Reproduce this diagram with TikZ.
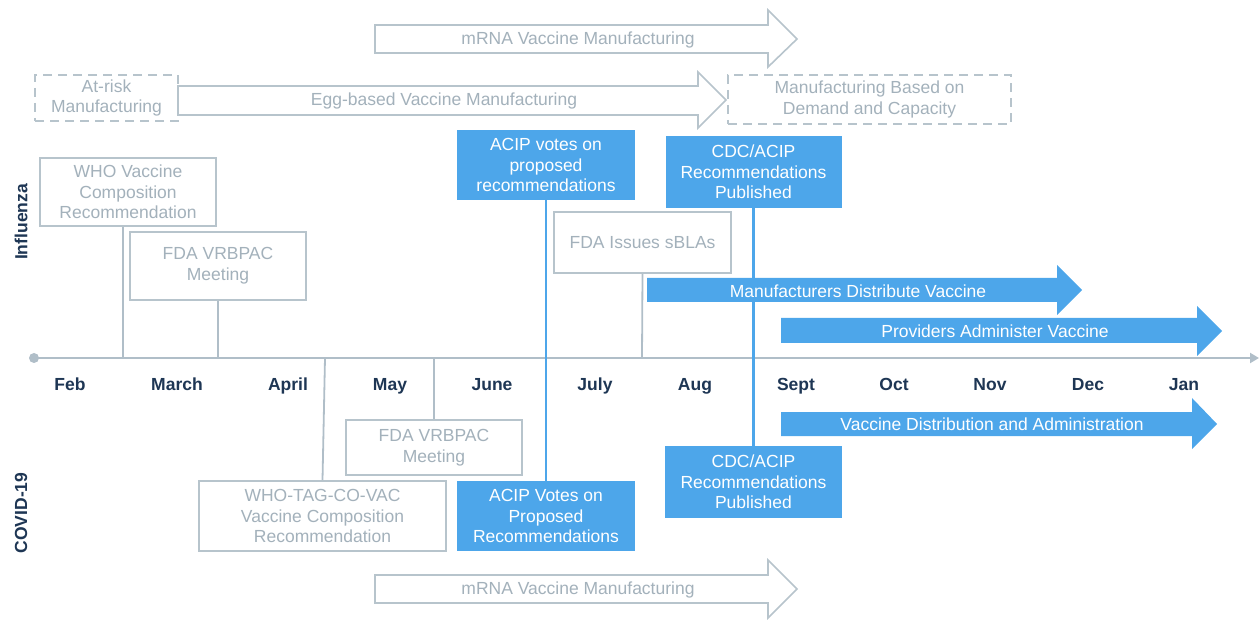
\documentclass[tikz,border=0pt]{standalone}
\usepackage{fontspec}
\setmainfont{Liberation Sans}
\usetikzlibrary{arrows.meta}
\definecolor{gline}{RGB}{183,196,204}
\definecolor{gtext}{RGB}{163,177,187}
\definecolor{vblue}{RGB}{77,166,234}
\definecolor{navy}{RGB}{30,54,84}
\definecolor{axisc}{RGB}{176,190,200}
\begin{document}
\begin{tikzpicture}[x=1pt,y=-1pt,
 every node/.style={font=\fontsize{17.5}{20.7}\selectfont, align=center, inner sep=0pt},
 gbox/.style={draw=gline, line width=1.6pt, text=gtext, fill=white},
 bbox/.style={fill=vblue, text=white},
 dbox/.style={draw=gline, line width=1.6pt, dash pattern=on 9pt off 6pt, text=gtext},
 month/.style={font=\fontsize{17.5}{20}\selectfont\bfseries, text=navy, anchor=base},
 side/.style={font=\fontsize{17.5}{20}\selectfont\bfseries, text=navy, rotate=90},
 gout/.style={draw=gline, line width=1.6pt, fill=white, line join=miter},
 gtxt/.style={text=gtext},
 wtxt/.style={text=white},
 conn/.style={draw=axisc, line width=1.8pt},
 bline/.style={draw=vblue, line width=2.2pt},
]
\useasboundingbox (0,0) rectangle (1259,620);

% axis
\coordinate (ax0) at (34,358);
\coordinate (ax1) at (1259,358);
\draw[axisc, line width=2.2pt, -{Triangle[length=9pt,width=10pt]}] (ax0) -- (ax1);
\fill[axisc] (ax0) circle (5pt);

% months
\node[month] (m1) at (70,391) {Feb};
\node[month] (m2) at (177,391) {March};
\node[month] (m3) at (288,391) {April};
\node[month] (m4) at (390,391) {May};
\node[month] (m5) at (492,391) {June};
\node[month] (m6) at (595,391) {July};
\node[month] (m7) at (695,391) {Aug};
\node[month] (m8) at (796,391) {Sept};
\node[month] (m9) at (894,391) {Oct};
\node[month] (m10) at (990,391) {Nov};
\node[month] (m11) at (1088,391) {Dec};
\node[month] (m12) at (1184,391) {Jan};

% side labels
\node[side] (flu) at (21,222) {Influenza};
\node[side] (cov) at (21,513) {COVID-19};

% axis attachment points
\coordinate (a1) at (123,358);
\coordinate (a2) at (218,358);
\coordinate (a3) at (642,358);
\coordinate (a4) at (434,358);
\coordinate (a5) at (325,358);

% boxes
\node[gbox, minimum width=176pt, minimum height=68pt] (who) at (128,192) {WHO Vaccine\\Composition\\Recommendation};
\node[gbox, minimum width=176pt, minimum height=68pt] (fdaI) at (218,266) {FDA VRBPAC\\Meeting};
\node[gbox, minimum width=177pt, minimum height=61pt] (sbla) at (642.5,242.5) {FDA Issues sBLAs};
\node[gbox, minimum width=176pt, minimum height=55pt] (fdaC) at (434,447.5) {FDA VRBPAC\\Meeting};
\node[gbox, minimum width=247pt, minimum height=70pt] (whoC) at (322.5,516) {WHO-TAG-CO-VAC\\Vaccine Composition\\Recommendation};

\node[bbox, minimum width=178pt, minimum height=70pt] (acipI) at (546,165) {ACIP votes on\\proposed\\recommendations};
\node[bbox, minimum width=176pt, minimum height=72pt] (cdcI) at (753.5,172) {CDC/ACIP\\Recommendations\\Published};
\node[bbox, minimum width=178pt, minimum height=70pt] (acipC) at (546,516) {ACIP Votes on\\Proposed\\Recommendations};
\node[bbox, minimum width=177pt, minimum height=72pt] (cdcC) at (753.5,482) {CDC/ACIP\\Recommendations\\Published};

% connectors
\draw[conn] (who.south -| a1) -- (a1);
\draw[conn] (fdaI.south) -- (a2);
\draw[conn] (sbla.south) -- (a3);
\draw[conn] (a4) -- (fdaC.north);
\draw[conn] (a5) -- (whoC.north);
\draw[bline] (acipI.south) -- (acipC.north);
\draw[bline] (cdcI.south) -- (cdcC.north);

% dashed boxes
\node[dbox, minimum width=143pt, minimum height=46pt] (risk) at (106.5,98) {At-risk\\Manufacturing};
\node[dbox, minimum width=283pt, minimum height=49pt] (demand) at (869.5,99.5) {Manufacturing Based on\\Demand and Capacity};

% outline arrows
\draw[gout] (375,25) -- (768,25) -- (768,10) -- (797,39) -- (768,67) -- (768,53) -- (375,53) -- cycle;
\node[gtxt] (mrnaT) at (578,40) {mRNA Vaccine Manufacturing};
\draw[gout] (178,86) -- (698,86) -- (698,72) -- (726,100) -- (698,128) -- (698,115) -- (178,115) -- cycle;
\node[gtxt] (egg) at (444,101) {Egg-based Vaccine Manufacturing};
\draw[gout] (375,575) -- (768,575) -- (768,560) -- (797,589) -- (768,618) -- (768,603) -- (375,603) -- cycle;
\node[gtxt] (mrnaB) at (578,590) {mRNA Vaccine Manufacturing};

% blue arrows
\fill[vblue] (647,278) -- (1057,278) -- (1057,265) -- (1082,290) -- (1057,315) -- (1057,302) -- (647,302) -- cycle;
\node[wtxt] (dist) at (858,291) {Manufacturers Distribute Vaccine};
\fill[vblue] (781,318) -- (1197,318) -- (1197,306) -- (1222,331) -- (1197,356) -- (1197,343) -- (781,343) -- cycle;
\node[wtxt] (prov) at (995,331) {Providers Administer Vaccine};
\fill[vblue] (781,412) -- (1192,412) -- (1192,398) -- (1217,424) -- (1192,449) -- (1192,436) -- (781,436) -- cycle;
\node[wtxt] (vda) at (992,424) {Vaccine Distribution and Administration};
\end{tikzpicture}
\end{document}
